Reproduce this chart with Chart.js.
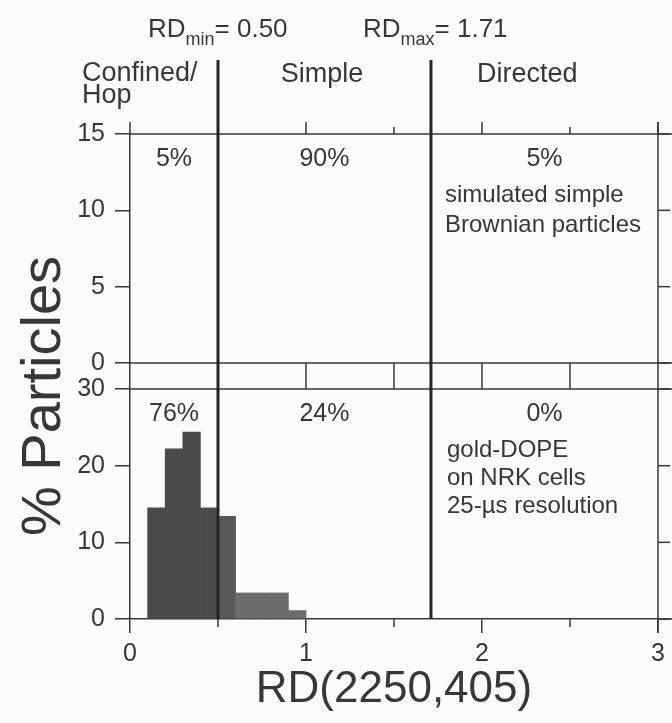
<!DOCTYPE html>
<html>
<head>
<meta charset="utf-8">
<script src="https://cdn.jsdelivr.net/npm/chart.js@4/dist/chart.umd.min.js"></script>
<style>
  html, body { margin: 0; padding: 0; background: #fcfcfa; }
</style>
</head>
<body>
<canvas id="rdChart" width="672" height="723"></canvas>
<script>
// RD histogram, bins of 0.1 (gold-DOPE panel); simulated panel has no bars
const binCenters = [0.15, 0.25, 0.35, 0.45, 0.55, 0.65, 0.75, 0.85, 0.95];
const goldDope = [14.5, 22.2, 24.4, 14.5, 13.4, 3.4, 3.4, 3.4, 1.1];
const rdLimits = [0.50, 1.71];
const regionNames = [['Confined/', 'Hop'], ['Simple'], ['Directed']];
const simPercents = ['5%', '90%', '5%'];
const goldPercents = ['76%', '24%', '0%'];
const simNote = ['simulated simple', 'Brownian particles'];
const goldNote = ['gold-DOPE', 'on NRK cells', '25-\u00b5s resolution'];
const topTicks = [0, 5, 10, 15];
const bottomTicks = [0, 10, 20, 30];
const xTicks = [0, 0.5, 1, 1.5, 2, 2.5, 3];

const ink = '#373737';
const family = '"Liberation Sans", Arial, sans-serif';

const frame = {
  id: 'frame',
  afterDatasetsDraw(chart) {
    const { ctx, chartArea: a, scales: { x, yTop, yBot } } = chart;
    const hline = (y, x0, x1) => { ctx.beginPath(); ctx.moveTo(x0, y); ctx.lineTo(x1, y); ctx.stroke(); };
    const vline = (px, y0, y1) => { ctx.beginPath(); ctx.moveTo(px, y0); ctx.lineTo(px, y1); ctx.stroke(); };
    const t15 = yTop.getPixelForValue(15), t0 = yTop.getPixelForValue(0);
    const b30 = yBot.getPixelForValue(30), b0 = yBot.getPixelForValue(0);

    ctx.save();
    ctx.strokeStyle = ink;
    ctx.lineWidth = 1.5;
    // panel borders
    [t15, t0, b30].forEach(y => hline(y, a.left, a.right + 14));
    hline(b0, a.right, a.right + 14);
    // right axis with outward ticks
    vline(a.right, t15 - 12, b0 + 14);
    topTicks.forEach(v => hline(yTop.getPixelForValue(v), a.right, a.right + 12));
    bottomTicks.forEach(v => hline(yBot.getPixelForValue(v), a.right, a.right + 12));
    // x ticks: above the top panel, between panels, minor ones below
    xTicks.forEach(v => {
      const px = x.getPixelForValue(v);
      const major = Number.isInteger(v);
      vline(px, t15 - (major ? 12 : 7), t15);
      if (v > 0 && v < 3) vline(px, t0, b30);
      if (!major) vline(px, b0, b0 + 8);
    });
    // RDmin / RDmax dividers
    ctx.strokeStyle = '#252525';
    ctx.lineWidth = 3;
    rdLimits.forEach(v => vline(x.getPixelForValue(v), t15 - 74, b0));

    // texts
    ctx.fillStyle = ink;
    ctx.textBaseline = 'alphabetic';
    const font = s => s + 'px ' + family;
    const sub = (x0, y, main, small, rest) => {
      ctx.textAlign = 'left';
      ctx.font = font(26);
      ctx.fillText(main, x0, y);
      let cx = x0 + ctx.measureText(main).width;
      ctx.font = font(18);
      ctx.fillText(small, cx, y + 8);
      cx += ctx.measureText(small).width;
      ctx.font = font(26);
      ctx.fillText(rest, cx, y);
    };
    sub(148, 37, 'RD', 'min', '= ' + rdLimits[0].toFixed(2));
    sub(363, 37, 'RD', 'max', '= ' + rdLimits[1].toFixed(2));

    ctx.font = font(27);
    ctx.textAlign = 'left';
    regionNames[0].forEach((s, i) => ctx.fillText(s, 82, 81 + i * 22));
    ctx.fillText(regionNames[2][0], 477, 82);
    ctx.textAlign = 'center';
    ctx.fillText(regionNames[1][0], 322, 82);

    const edges = [0, rdLimits[0], rdLimits[1], 3].map(v => x.getPixelForValue(v));
    ctx.font = font(25);
    simPercents.forEach((s, i) => ctx.fillText(s, (edges[i] + edges[i + 1]) / 2, t15 + 32));
    goldPercents.forEach((s, i) => ctx.fillText(s, (edges[i] + edges[i + 1]) / 2, b30 + 32));

    ctx.textAlign = 'left';
    ctx.font = font(24);
    simNote.forEach((s, i) => ctx.fillText(s, edges[2] + 14, t15 + 68 + i * 30));
    goldNote.forEach((s, i) => ctx.fillText(s, edges[2] + 16, b30 + 68 + i * 28));

    // y axis title
    ctx.translate(60, 396);
    ctx.rotate(-Math.PI / 2);
    ctx.textAlign = 'center';
    ctx.font = font(56);
    ctx.fillText('% Particles', 0, 0);
    ctx.restore();
  }
};

const yAxis = (max, ticks, weight) => ({
  type: 'linear',
  position: 'left',
  stack: 'panels',
  stackWeight: weight,
  min: 0,
  max: max,
  afterBuildTicks: s => { s.ticks = ticks.map(v => ({ value: v })); },
  afterFit: s => { s.width = 130; },
  grid: { drawOnChartArea: false, tickLength: 15, color: ink, lineWidth: 1.5 },
  border: { color: ink, width: 1.5 },
  ticks: { color: ink, font: { family: family, size: 25 }, padding: 10 }
});

const ctx = document.getElementById('rdChart').getContext('2d');
const rdChart = new Chart(ctx, {
  type: 'bar',
  data: {
    datasets: [{
      label: 'gold-DOPE',
      data: binCenters.map((v, i) => ({ x: v, y: goldDope[i] })),
      xAxisID: 'x',
      yAxisID: 'yBot',
      backgroundColor: ['#4b4b49', '#4b4b49', '#4b4b49', '#4b4b49', '#585856', '#6c6c6a', '#6c6c6a', '#6c6c6a', '#6c6c6a'],
      borderWidth: 0,
      barPercentage: 1,
      categoryPercentage: 1
    }]
  },
  options: {
    responsive: false,
    animation: false,
    layout: { padding: { top: 134, right: 14, left: 0, bottom: 0 } },
    plugins: { legend: { display: false }, tooltip: { enabled: false } },
    scales: {
      x: {
        type: 'linear',
        min: 0,
        max: 3,
        offset: false,
        afterBuildTicks: s => { s.ticks = xTicks.map(v => ({ value: v })); },
        afterFit: s => { s.height = 104; },
        grid: {
          offset: false,
          drawOnChartArea: false,
          tickLength: 14,
          lineWidth: 1.5,
          tickColor: c => (c.tick && Number.isInteger(c.tick.value)) ? ink : 'rgba(0,0,0,0)'
        },
        border: { color: ink, width: 1.5 },
        ticks: {
          color: ink,
          font: { family: family, size: 25 },
          padding: 6,
          maxRotation: 0,
          autoSkip: false,
          callback: v => Number.isInteger(v) ? v : ''
        },
        title: {
          display: true,
          text: 'RD(2250,405)',
          color: ink,
          font: { family: family, size: 44, lineHeight: 1 },
          padding: { top: 0, bottom: 11 }
        }
      },
      yBot: yAxis(33.4, bottomTicks, 256),
      yTop: yAxis(15, topTicks, 229)
    }
  },
  plugins: [frame]
});
</script>
</body>
</html>
